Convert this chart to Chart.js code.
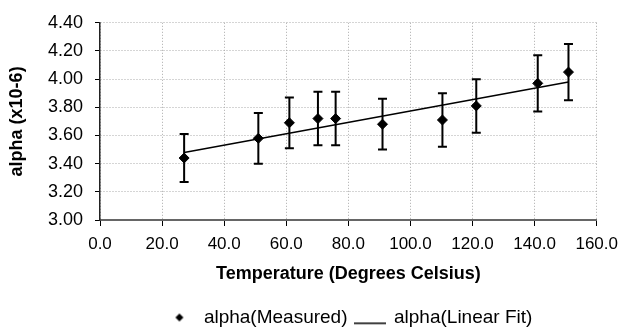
<!DOCTYPE html>
<html>
<head>
<meta charset="utf-8">
<script src="https://cdn.jsdelivr.net/npm/chart.js@4.4.1/dist/chart.umd.min.js"></script>
<style>
  html, body { margin: 0; padding: 0; background: #fff; }
  #wrap { width: 626px; height: 334px; }
</style>
</head>
<body>
<div id="wrap"><canvas id="alphaChart" width="626" height="334"></canvas></div>
<script>
// Temperatura (graus Celsius) e alpha medido (x10-6)
const temperatures = [27.1, 51.0, 61.0, 70.2, 75.9, 91.0, 110.3, 121.2, 141.0, 150.9];
const alphaMeasured = [3.44, 3.58, 3.69, 3.72, 3.72, 3.68, 3.71, 3.81, 3.97, 4.05];
const alphaError = [0.17, 0.18, 0.18, 0.19, 0.19, 0.18, 0.19, 0.19, 0.20, 0.20];
// Extremos da reta de ajuste
const fitTemperatures = [27.1, 150.9];
const fitAlpha = [3.48, 3.98];
const seriesNames = ['alpha(Measured)', 'alpha(Linear Fit)'];

// Desenha as barras de erro usando as escalas do gráfico
const errorBars = {
    id: 'errorBars',
    afterDatasetsDraw(chart) {
        const { ctx, scales: { x, y } } = chart;
        ctx.save();
        ctx.strokeStyle = '#000';
        ctx.lineWidth = 2;
        temperatures.forEach(function (t, i) {
            const px = x.getPixelForValue(t);
            const top = y.getPixelForValue(alphaMeasured[i] + alphaError[i]);
            const bot = y.getPixelForValue(alphaMeasured[i] - alphaError[i]);
            ctx.beginPath();
            ctx.moveTo(px, top); ctx.lineTo(px, bot);
            ctx.moveTo(px - 4.5, top); ctx.lineTo(px + 4.5, top);
            ctx.moveTo(px - 4.5, bot); ctx.lineTo(px + 4.5, bot);
            ctx.stroke();
        });
        ctx.restore();
    }
};

// Ícones da legenda
function diamondIcon() {
    const c = document.createElement('canvas');
    c.width = 10; c.height = 10;
    const g = c.getContext('2d');
    g.fillStyle = '#000';
    g.beginPath();
    g.moveTo(5, 1); g.lineTo(9, 5); g.lineTo(5, 9); g.lineTo(1, 5);
    g.closePath(); g.fill();
    return c;
}
function lineIcon() {
    const c = document.createElement('canvas');
    c.width = 32; c.height = 16;
    const g = c.getContext('2d');
    g.fillStyle = '#000';
    g.fillRect(0, 13, 32, 1.5);
    return c;
}
const legendIcons = [diamondIcon(), lineIcon()];

const ctx = document.getElementById('alphaChart').getContext('2d');
new Chart(ctx, {
    type: 'scatter',
    data: {
        datasets: [{
            label: seriesNames[0],
            data: temperatures.map((t, i) => ({ x: t, y: alphaMeasured[i] })),
            pointStyle: 'rectRot',
            pointRadius: 5,
            pointHoverRadius: 5,
            backgroundColor: '#000',
            borderColor: '#000',
            showLine: false
        }, {
            label: seriesNames[1],
            data: fitTemperatures.map((t, i) => ({ x: t, y: fitAlpha[i] })),
            showLine: true,
            pointRadius: 0,
            borderColor: '#000',
            borderWidth: 1.5,
            tension: 0
        }]
    },
    options: {
        responsive: false,
        animation: false,
        devicePixelRatio: 1,
        layout: { padding: { top: 16, right: 22, left: 0, bottom: -3 } },
        plugins: {
            tooltip: { enabled: false },
            legend: {
                position: 'bottom',
                fullSize: false,
                labels: {
                    usePointStyle: true,
                    pointStyleWidth: 30,
                    boxHeight: 19,
                    padding: 7,
                    color: '#000',
                    font: { family: 'Liberation Sans, Arial, sans-serif', size: 19 },
                    generateLabels: function () {
                        return seriesNames.map((name, i) => ({
                            text: name,
                            pointStyle: legendIcons[i],
                            fillStyle: '#000',
                            strokeStyle: '#000',
                            lineWidth: 0,
                            hidden: false,
                            datasetIndex: i
                        }));
                    }
                }
            }
        },
        scales: {
            x: {
                type: 'linear',
                min: 0,
                max: 160,
                afterFit: function (scale) { scale.height = 81; },
                ticks: {
                    stepSize: 20,
                    padding: 8,
                    color: '#000',
                    font: { family: 'Liberation Sans, Arial, sans-serif', size: 17 },
                    maxRotation: 0,
                    callback: v => v.toFixed(1)
                },
                grid: { color: '#aaa', tickColor: '#000', tickLength: 6 },
                border: { display: true, color: '#666', width: 2, dash: [1, 2] },
                title: {
                    display: true,
                    text: 'Temperature (Degrees Celsius)',
                    color: '#000',
                    padding: { top: 0, bottom: 16 },
                    font: { family: 'Liberation Sans, Arial, sans-serif', size: 18, weight: 'bold' }
                }
            },
            y: {
                min: 3.0,
                max: 4.4,
                afterFit: function (scale) { scale.width = 100; },
                ticks: {
                    stepSize: 0.2,
                    padding: 12,
                    color: '#000',
                    font: { family: 'Liberation Sans, Arial, sans-serif', size: 18 },
                    callback: v => v.toFixed(2)
                },
                grid: { color: '#aaa', tickColor: '#000', tickLength: 5 },
                border: { display: true, color: '#222', width: 1.5, dash: [1, 2] },
                title: {
                    display: true,
                    text: 'alpha (x10-6)',
                    color: '#000',
                    padding: { top: 6, bottom: 0 },
                    font: { family: 'Liberation Sans, Arial, sans-serif', size: 18, weight: 'bold' }
                }
            }
        }
    },
    plugins: [errorBars]
});
</script>
</body>
</html>
